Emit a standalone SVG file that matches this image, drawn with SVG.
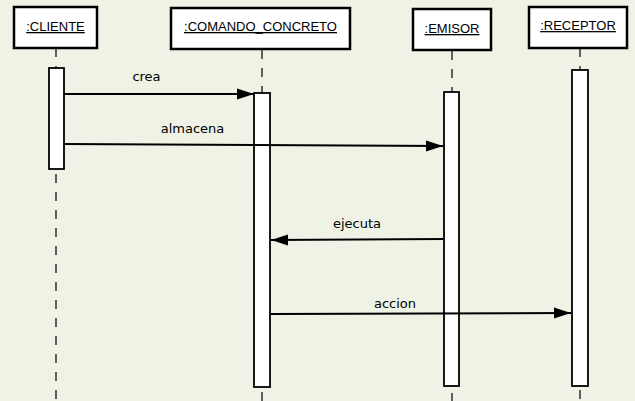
<svg xmlns="http://www.w3.org/2000/svg" width="635" height="401" viewBox="0 0 635 401">
<defs>
<style>
.box{fill:#ffffff;stroke:#000;stroke-width:2.5}
.bar{fill:#ffffff;stroke:#000;stroke-width:1.8}
.life{stroke:#000;stroke-width:1.2;stroke-dasharray:9 9;fill:none}
.title{font-family:"Liberation Sans",Arial,sans-serif;font-size:13px;fill:#000;text-anchor:middle;text-decoration:underline}
.msg{stroke:#000;stroke-width:2;fill:none;marker-end:url(#arr)}
.lbl{font-family:"DejaVu Sans",sans-serif;font-size:13px;fill:#000;text-anchor:middle}
</style>
<marker id="arr" markerUnits="userSpaceOnUse" markerWidth="18" markerHeight="12" refX="17" refY="6" orient="auto">
<path d="M0,0.5 L17,6 L0,11.5 Z" fill="#000"/>
</marker>
</defs>
<rect width="635" height="401" fill="#eef3e5"/>
<g id="cliente">
<line class="life" x1="56" y1="48" x2="56" y2="401"/>
<rect class="box" x="14" y="7" width="83" height="41"/>
<text class="title" x="55.5" y="31">:CLIENTE</text>
<rect class="bar" x="49" y="68" width="15" height="101"/>
</g>
<g id="comando_concreto">
<line class="life" x1="262" y1="50" x2="262" y2="401"/>
<rect class="box" x="171" y="8" width="179" height="41"/>
<text class="title" x="260.5" y="31">:COMANDO_CONCRETO</text>
<rect class="bar" x="254" y="93" width="16" height="294"/>
</g>
<g id="emisor">
<line class="life" x1="452" y1="51" x2="452" y2="401"/>
<rect class="box" x="413" y="9" width="78" height="41"/>
<text class="title" x="452" y="33">:EMISOR</text>
<rect class="bar" x="444" y="92" width="15" height="294"/>
</g>
<g id="receptor">
<line class="life" x1="580" y1="48" x2="580" y2="401"/>
<rect class="box" x="529" y="7" width="98" height="41"/>
<text class="title" x="578" y="30">:RECEPTOR</text>
<rect class="bar" x="572" y="70" width="16" height="316"/>
</g>
<g id="connectors">
<line class="msg" x1="64" y1="94" x2="254" y2="94"/>
<text class="lbl" x="146.5" y="81">crea</text>
<line class="msg" x1="64" y1="144" x2="443" y2="146"/>
<text class="lbl" x="192.5" y="133">almacena</text>
<line class="msg" x1="443" y1="239" x2="271" y2="240"/>
<text class="lbl" x="357" y="228">ejecuta</text>
<line class="msg" x1="270" y1="314" x2="571" y2="313"/>
<text class="lbl" x="395" y="308">accion</text>
</g>
</svg>
